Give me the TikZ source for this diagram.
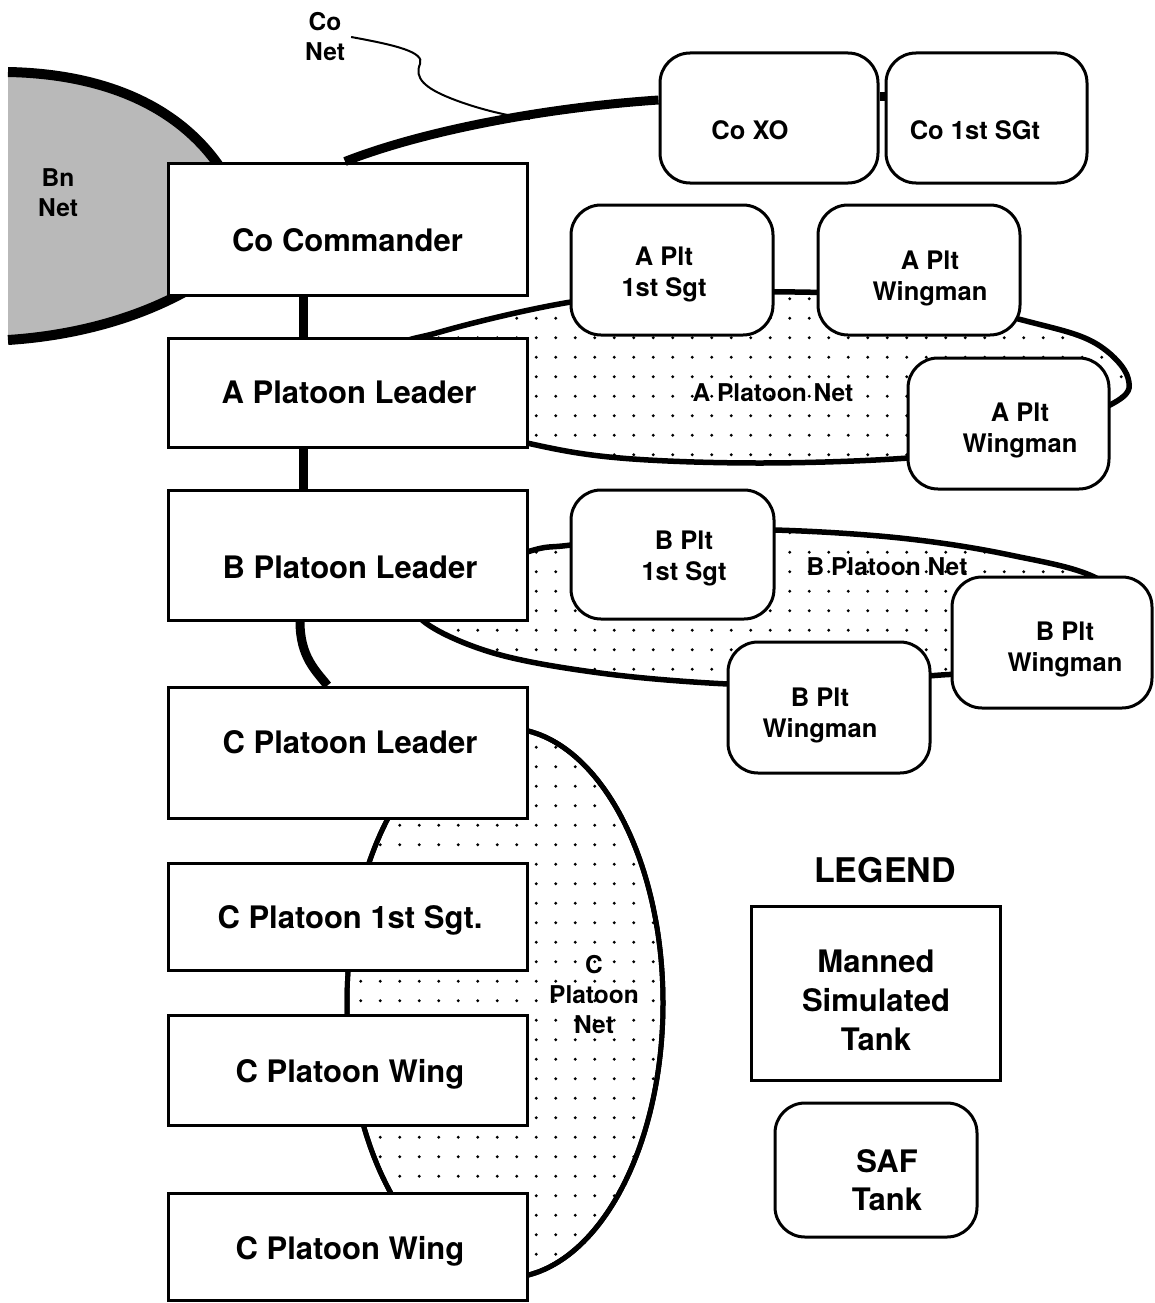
\documentclass[tikz,border=0pt]{standalone}
\usepackage{fontspec}
\setmainfont{TeX Gyre Heros}
\usetikzlibrary{patterns}
\pgfdeclarepatternformonly{sparsedots}{\pgfqpoint{-1pt}{-1pt}}{\pgfqpoint{20pt}{20pt}}{\pgfqpoint{19.5pt}{19.5pt}}{%
  \pgfpathcircle{\pgfqpoint{9.75pt}{9.75pt}}{1.6pt}\pgfusepath{fill}}
\tikzset{
  manned/.style={draw, line width=3pt, fill=white, inner sep=0pt},
  saf/.style={draw, line width=3pt, fill=white, rounded corners=30pt, inner sep=0pt},
  mtxt/.style={font=\fontsize{31}{36}\selectfont\bfseries, text height=22pt, text depth=0pt, inner sep=0pt},
  stxt/.style={font=\fontsize{25.5}{31}\selectfont\bfseries, align=center, inner sep=0pt},
  ltxt/.style={font=\fontsize{31}{39}\selectfont\bfseries, align=center, inner sep=0pt},
  ntxt/.style={font=\fontsize{24.5}{30}\selectfont\bfseries, align=center, inner sep=0pt},
  conn/.style={line width=9pt},
  netline/.style={line width=5.5pt},
  netfill/.style={pattern=sparsedots},
}
\begin{document}
\begin{tikzpicture}[x=1pt,y=-1pt]
\useasboundingbox (0,0) rectangle (1154,1303);
\fill[white] (0,0) rectangle (1154,1303);

% Bn Net
\fill[gray!55] (8,72) .. controls (110,74) and (185,110) .. (225,175) -- (225,283) -- (200,283)
   .. controls (140,320) and (70,336) .. (8,340) -- cycle;
\draw[line width=10pt] (8,72) .. controls (110,74) and (185,110) .. (225,175);
\draw[line width=10pt] (200,283) .. controls (140,320) and (70,336) .. (8,340);

% C Platoon Net
\draw[line width=5pt, netfill] (505,1003) ellipse (158 and 275);
\draw[line width=5pt] (505,1003) ellipse (158 and 275);

% A Platoon Net
\draw[netline, netfill] plot[smooth cycle, tension=0.6] coordinates {
  (400,352) (440,332) (571,302) (680,294) (795,292) (920,298) (1030,322)
  (1095,343) (1128,378) (1110,405) (1000,445) (908,458) (760,463) (620,458)
  (527,443) (440,418)};

% B Platoon Net
\draw[netline, netfill] plot[smooth cycle, tension=0.6] coordinates {
  (430,588) (527,552) (571,545) (680,532) (774,530) (900,538) (1010,555)
  (1100,580) (1140,630) (1050,668) (941,675) (830,684) (728,684) (600,673)
  (490,652) (420,618)};

% manned boxes
\node[manned, minimum width=359pt, minimum height=132pt] (cc) at (347.5,229) {};
\node[manned, minimum width=359pt, minimum height=109pt] (apl) at (347.5,392.5) {};
\node[manned, minimum width=359pt, minimum height=130pt] (bpl) at (347.5,555) {};
\node[manned, minimum width=359pt, minimum height=131pt] (cpl) at (347.5,752.5) {};
\node[manned, minimum width=359pt, minimum height=107pt] (csg) at (347.5,916.5) {};
\node[manned, minimum width=359pt, minimum height=110pt] (cw1) at (347.5,1070) {};
\node[manned, minimum width=359pt, minimum height=107pt] (cw2) at (347.5,1246.5) {};

% connectors
\draw[conn] ([xshift=-44.5pt]cc.south) -- ([xshift=-44.5pt]apl.north);
\draw[conn] ([xshift=-44.5pt]apl.south) -- ([xshift=-44.5pt]bpl.north);
\draw[conn] ([xshift=-47.5pt]bpl.south) .. controls +(0,35) and +(-12,-15) .. ([xshift=-20pt]cpl.north);

% SAF boxes
\node[saf, minimum width=218pt, minimum height=130pt] (xo) at (769,118) {};
\node[saf, minimum width=201pt, minimum height=130pt] (sgt) at (986.5,118) {};
\node[saf, minimum width=202pt, minimum height=130pt] (a1) at (672,270) {};
\node[saf, minimum width=202pt, minimum height=130pt] (aw1) at (919,270) {};
\node[saf, minimum width=201pt, minimum height=131pt] (aw2) at (1008.5,423.5) {};
\node[saf, minimum width=203pt, minimum height=129pt] (b1) at (672.5,554.5) {};
\node[saf, minimum width=200pt, minimum height=131pt] (bw1) at (1052,642.5) {};
\node[saf, minimum width=202pt, minimum height=131pt] (bw2) at (829,707.5) {};

% Co net
\draw[conn] ([xshift=-2.5pt]cc.north) .. controls (420,132) and (540,108) .. ([yshift=18pt]xo.west);
\draw[conn] ([yshift=21pt]xo.east) -- ([yshift=21pt]sgt.west);
\node[ntxt] (conet) at (325,37) {Co\\Net};
\coordinate (cojoin) at (530,119);
\draw[line width=2pt] ([xshift=6pt]conet.east) .. controls (395,45) and (425,52) .. (420,64)
   .. controls (414,78) and (425,88) .. (450,98) .. controls (480,110) and (510,116) .. (cojoin);

% texts
\node[mtxt] (cct) at (347.5,240) {Co Commander};
\node[mtxt] (aplt) at (349,392) {A Platoon Leader};
\node[mtxt] (bplt) at (350,567) {B Platoon Leader};
\node[mtxt] (cplt) at (350,742) {C Platoon Leader};
\node[mtxt] (csgt) at (350,917) {C Platoon 1st Sgt.};
\node[mtxt] (cw1t) at (350,1071) {C Platoon Wing};
\node[mtxt] (cw2t) at (350,1248) {C Platoon Wing};

\node[stxt] (xot) at (750,130) {Co XO};
\node[stxt] (sgtt) at (975,130) {Co 1st SGt};
\node[stxt] (a1t) at (664,274) {A Plt\\1st Sgt};
\node[stxt] (aw1t) at (930,278) {A Plt\\Wingman};
\node[stxt] (aw2t) at (1020,430) {A Plt\\Wingman};
\node[stxt] (b1t) at (684,558) {B Plt\\1st Sgt};
\node[stxt] (bw1t) at (1065,649) {B Plt\\Wingman};
\node[stxt] (bw2t) at (820,715) {B Plt\\Wingman};

\node[ntxt] (bnnet) at (58,193) {Bn\\Net};
\node[ntxt] (anet) at (773,393) {A Platoon Net};
\node[ntxt] (bnett) at (887,567) {B Platoon Net};
\node[ntxt] (cnet) at (594,995) {C\\Platoon\\Net};

% legend
\node[font=\fontsize{34}{40}\selectfont\bfseries, inner sep=0pt] (legend) at (885,870) {LEGEND};
\node[manned, minimum width=249pt, minimum height=174pt] (leg1) at (875.5,993) {};
\node[ltxt] (leg1t) at (876,1000) {Manned\\Simulated\\Tank};
\node[saf, minimum width=202pt, minimum height=134pt] (leg2) at (876,1170) {};
\node[ltxt, font=\fontsize{31}{38}\selectfont\bfseries] (leg2t) at (887,1180) {SAF\\Tank};
\end{tikzpicture}
\end{document}
